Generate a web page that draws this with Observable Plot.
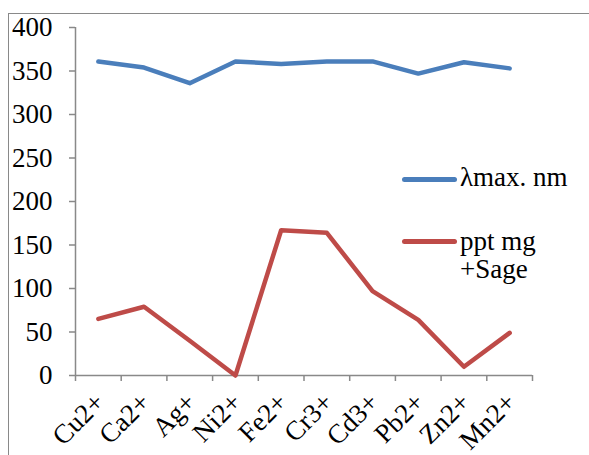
<!DOCTYPE html>
<html><head><meta charset="utf-8">
<script src="https://cdn.jsdelivr.net/npm/d3@7"></script>
<script src="https://cdn.jsdelivr.net/npm/@observablehq/plot@0.6"></script>
<style>
body{margin:0;background:#fff;font-family:"Liberation Serif";}
#wrap{position:relative;width:589px;height:455px;overflow:hidden;}
#frame{position:absolute;left:8px;top:13px;width:620px;height:500px;border-left:1.5px solid #898989;border-top:1.5px solid #898989;}
#chart{position:absolute;left:0;top:0;}
.leg{position:absolute;left:402px;top:0;font-size:27px;line-height:27px;color:#000;}
.sw{position:absolute;left:0;width:55px;height:5px;border-radius:3px;}
.lt{position:absolute;left:58px;white-space:nowrap;}
</style></head>
<body><div id="wrap"><div id="frame"></div><div id="chart"></div>
<div class="leg"><div class="sw" style="top:177px;background:#4a7ebb"></div><div class="lt" style="top:164px">λmax. nm</div>
<div class="sw" style="top:239px;background:#be4b48"></div><div class="lt" style="top:228px">ppt mg</div><div class="lt" style="top:256px">+Sage</div></div>
</div>
<script>
const categories = ["Cu2+","Ca2+","Ag+","Ni2+","Fe2+","Cr3+","Cd3+","Pb2+","Zn2+","Mn2+"];
const lambdaMax = [361,354,336,361,358,361,361,347,360,353];
const pptSage = [65,79,40,0,167,164,97,64,10,49];
const yTicks = [0,50,100,150,200,250,300,350,400];
const seriesNames = ["λmax. nm","ppt mg +Sage"];
const colors = ["#4a7ebb","#be4b48"];

const rows = [];
categories.forEach((c,i)=>{
  rows.push({cat:c,i:i+0.5,v:lambdaMax[i],s:seriesNames[0]});
  rows.push({cat:c,i:i+0.5,v:pptSage[i],s:seriesNames[1]});
});
const catRows = categories.map((c,i)=>({cat:c,i:i+0.5}));
const bounds = d3.range(categories.length+1);
const FF = "Liberation Serif";

const chart = Plot.plot({
  width:589,height:455,
  marginLeft:75,marginRight:57,marginTop:27,marginBottom:80,
  style:{fontFamily:FF,fontSize:"27px",color:"#000",background:"transparent"},
  x:{domain:[0,categories.length],axis:null},
  y:{domain:[0,400],axis:null},
  color:{domain:seriesNames,range:colors},
  marks:[
    Plot.axisY({ticks:yTicks,tickSize:6,tickPadding:17,stroke:"#898989",strokeWidth:1.5,fontSize:27,fontFamily:FF,label:null}),
    Plot.axisX({ticks:bounds,tickSize:6,tickFormat:()=>"",stroke:"#898989",strokeWidth:1.5,label:null}),
    Plot.ruleX([0],{stroke:"#898989",strokeWidth:1.5}),
    Plot.ruleY([0],{stroke:"#898989",strokeWidth:1.5}),
    Plot.line(rows,{x:"i",y:"v",z:"s",stroke:"s",strokeWidth:4.5,strokeLinejoin:"round",strokeLinecap:"round"}),
    Plot.text(catRows,{x:"i",y:()=>0,text:"cat",rotate:-45,textAnchor:"end",lineAnchor:"top",dx:-6,dy:15,fontSize:27,fontFamily:FF,fill:"#000"})
  ]
});
document.getElementById("chart").appendChild(chart);
</script></body></html>
